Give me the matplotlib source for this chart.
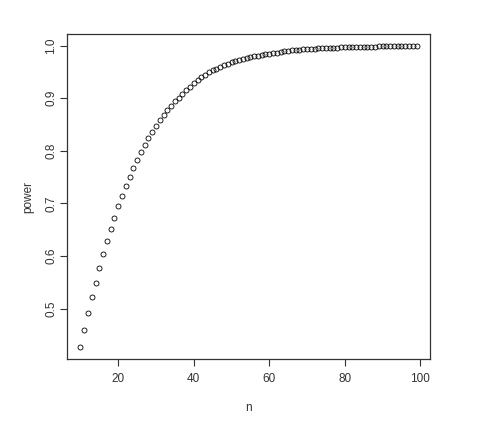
import matplotlib
matplotlib.use("Agg")
import matplotlib.pyplot as plt

n = list(range(10, 100))
power = [
    0.427, 0.459, 0.491, 0.522, 0.549, 0.577, 0.604, 0.628, 0.651, 0.673,
    0.695, 0.715, 0.733, 0.750, 0.767, 0.783, 0.798, 0.811, 0.824, 0.836,
    0.847, 0.858, 0.868, 0.877, 0.885, 0.894, 0.901, 0.908, 0.915, 0.922,
    0.929, 0.935, 0.940, 0.945, 0.949, 0.953, 0.956, 0.959, 0.963, 0.965,
    0.968, 0.970, 0.973, 0.975, 0.977, 0.978, 0.980, 0.981, 0.983, 0.984,
    0.985, 0.986, 0.987, 0.988, 0.989, 0.990, 0.991, 0.9915, 0.992, 0.993,
    0.9933, 0.9938, 0.9942, 0.9947, 0.9951, 0.9954, 0.9958, 0.9961, 0.9964, 0.9967,
    0.9969, 0.9971, 0.9974, 0.9976, 0.9978, 0.9979, 0.9981, 0.9982, 0.9984, 0.9985,
    0.9986, 0.9987, 0.9988, 0.9989, 0.9990, 0.9991, 0.9991, 0.9992, 0.9993, 0.9993,
]
xticks = [20, 40, 60, 80, 100]
yticks = [0.5, 0.6, 0.7, 0.8, 0.9, 1.0]

plt.rcParams['font.family'] = ['Liberation Sans', 'DejaVu Sans']
fig = plt.figure(figsize=(4.88, 4.25), dpi=100)
ax = fig.add_axes([67/488, 1-359/425, (430-67)/488, (359-34)/425])
ax.plot(n, power, linestyle='none', marker='o', markersize=3.6,
        markerfacecolor='none', markeredgecolor='black', markeredgewidth=0.6)

xr = max(n) - min(n)
yr = max(power) - min(power)
ax.set_xlim(min(n) - 0.04*xr, max(n) + 0.04*xr)
ax.set_ylim(min(power) - 0.04*yr, max(power) + 0.04*yr)
ax.set_xticks(xticks)
ax.set_xticklabels([str(v) for v in xticks])
ax.set_yticks(yticks)
ax.set_yticklabels(['%.1f' % v for v in yticks], rotation=90, va='center')
ax.tick_params(direction='out', length=5, width=0.8, labelsize=8.5,
               colors='#333333', labelcolor='#333333')
ax.tick_params(axis='x', pad=5)
ax.tick_params(axis='y', pad=2)
for s in ax.spines.values():
    s.set_linewidth(0.9)
    s.set_color('#333333')
ax.set_xlabel('n', fontsize=8.5, color='#333333', labelpad=12)
ax.set_ylabel('power', fontsize=8.5, color='#333333', labelpad=8)
fig.savefig('out.png', dpi=100)
